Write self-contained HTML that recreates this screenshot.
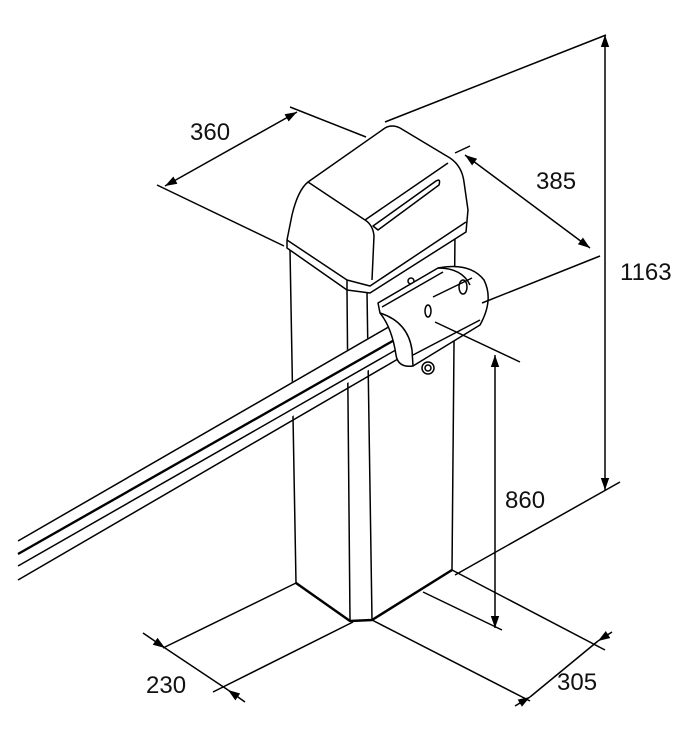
<!DOCTYPE html>
<html><head><meta charset="utf-8"><style>
html,body{margin:0;padding:0;background:#fff;}
svg{display:block;}
text{font-family:"Liberation Sans Narrow","Liberation Sans",sans-serif;font-size:24px;fill:#111;}
</style></head><body>
<svg width="686" height="736" viewBox="0 0 686 736" xmlns="http://www.w3.org/2000/svg">
<defs>
<marker id="a" viewBox="0 0 10 10" refX="10" refY="5" markerWidth="8" markerHeight="8" orient="auto-start-reverse"><path d="M0,1.5 L10,5 L0,8.5 z" fill="#000"/></marker>
</defs>
<g fill="none" stroke="#000" stroke-width="1.5" stroke-linejoin="round">
<!-- cabinet body -->
<path d="M290,250 L296,583 L350,621 L372,620 L452,570 L455,232"/>
<path d="M347,290 L350,621 M367,292 L372,620"/>
<path d="M296,583 L350,621 L372,620 L452,570" stroke-width="2.5"/>
<!-- lid -->
<path fill="#fff" d="M287,240 L292,215 Q298,190 308,182 L385,128 Q392,124 400,128 L450,158 Q462,166 464,182 L468,210 L466,232 L370,293 L347,290 L287,248 Z"/>
<path d="M308,182 L365,220 Q373,225 374,236 L372,280"/>
<path d="M365,220 L448,163"/>
<path d="M287,240 L347,280 L370,286 L466,222"/>
<path d="M347,280 L347,290"/>
<path d="M373,226 L436,181 Q441,178 439,185 L378,230 Z"/>
<circle cx="411" cy="281" r="3"/>
<!-- boom -->
<path fill="#fff" stroke="none" d="M18,540 L392,324 L410,345 L18,582 Z"/>
<path d="M18,541 L392,325"/>
<path d="M18,554 L405,334" stroke-width="2.4"/>
<path d="M18,566 L408,343"/>
<path d="M18,580 L410,352"/>
<!-- holder -->
<path fill="#fff" d="M378,303 L438,268 Q470,262 484,280 Q494,300 480,325 L413,366 Q398,368 396,355 Q392,328 380,313 Z"/>
<path d="M382,307 L443,272 M438,268 Q462,268 470,285"/>
<path d="M380,313 Q408,322 412,350 L413,366"/>
<path d="M413,355 L480,320"/>
<path d="M433,297 L472,278"/>
<ellipse cx="428" cy="311" rx="3" ry="6"/>
<ellipse cx="463" cy="287" rx="4" ry="7"/>
<circle cx="428" cy="368" r="6"/><circle cx="428" cy="368" r="3"/>
<!-- dimension extension lines -->
<path d="M157,185 L284,246"/>
<path d="M290,107 L366,137"/>
<path d="M385,122 L606,35"/>
<path d="M455,153 L470,146"/>
<path d="M482,303 L600,256"/>
<path d="M435,322 L520,362"/>
<path d="M455,575 L620,482"/>
<path d="M163,648 L296,583"/>
<path d="M213,692 L353,622"/>
<path d="M372,620 L530,701"/>
<path d="M423,592 L502,630"/>
<path d="M452,570 L605,650"/>
<!-- dimension lines -->
<path d="M165,186 L297,112" marker-start="url(#a)" marker-end="url(#a)"/>
<path d="M465,155 L590,248" marker-start="url(#a)" marker-end="url(#a)"/>
<path d="M605,35 L605,490" marker-start="url(#a)" marker-end="url(#a)"/>
<path d="M495,355 L495,628" marker-start="url(#a)" marker-end="url(#a)"/>
<path d="M143,633 L165,648"  marker-end="url(#a)"/>
<path d="M245,702 L228,690" marker-end="url(#a)"/>
<path d="M165,648 L228,690"/>
<path d="M515,706 L530,697" marker-end="url(#a)"/>
<path d="M612,632 L598,641" marker-end="url(#a)"/>
<path d="M530,697 L598,641"/>
</g>
<text x="190" y="140">360</text>
<text x="536" y="189">385</text>
<text x="620" y="280">1163</text>
<text x="505" y="508">860</text>
<text x="146" y="693">230</text>
<text x="557" y="690">305</text>
</svg>
</body></html>
